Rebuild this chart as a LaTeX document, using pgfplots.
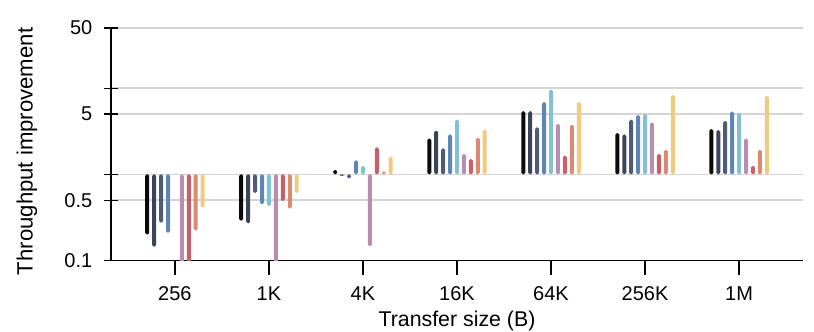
\documentclass[border=0pt]{standalone}
\usepackage{fontspec}
\setmainfont{Liberation Sans}
\usepackage{pgfplots}
\pgfplotsset{compat=1.18}
\usetikzlibrary{calc}
\definecolor{c1}{HTML}{0A0A0A}
\definecolor{c2}{HTML}{3B4558}
\definecolor{c3}{HTML}{505B77}
\definecolor{c4}{HTML}{5E86B5}
\definecolor{c5}{HTML}{80C2D3}
\definecolor{c6}{HTML}{B98CB0}
\definecolor{c7}{HTML}{C95F69}
\definecolor{c8}{HTML}{DA8A6E}
\definecolor{c9}{HTML}{F0CA80}
\definecolor{gridc}{HTML}{D4D4D4}

\begin{document}
\begin{tikzpicture}
\begin{axis}[
  name=ax,
  scale only axis, width=519pt, height=174.3pt,
  ymode=log, ymin=0.1, ymax=50, log origin y=0,
  xmin=-0.68, xmax=6.68,
  xtick={0,...,6}, xticklabels={256,1K,4K,16K,64K,256K,1M},
  ytick={0.1,0.5,1,5,10,50}, yticklabels={0.1,0.5,,5,,50},
  minor ytick={}, 
  axis x line*=bottom, axis y line*=left,
  axis line style={line width=1.1pt},
  tick align=center, major tick length=11pt,
  tick style={line width=1pt, black},
  ymajorgrids, grid style={line width=1.1pt, gridc},
  /pgf/number format/assume math mode=true,
  tick label style={font=\fontsize{15}{18}\selectfont},
  xticklabel style={yshift=-5pt},
  yticklabel style={xshift=-5pt},
  xlabel={Transfer size (B)},
  ylabel={Throughput improvement},
  every axis x label/.style={at={(rel axis cs:0.5,-0.2827)}, anchor=base, font=\fontsize{16}{19}\selectfont},
  every axis y label/.style={at={(rel axis cs:-0.1214,0.469)}, anchor=center, rotate=90, font=\fontsize{16.6}{19}\selectfont},
  ybar=2.2pt, bar width=3pt,
  every axis plot/.append style={draw=none, rounded corners=1.2pt},
]
% 256, 1K, 4K, 16K, 64K, 256K, 1M
\addplot[fill=c1] coordinates {(0,0.20) (1,0.29) (2,1.12) (3,2.6) (4,5.4) (5,3.0) (6,3.35)};
\addplot[fill=c2] coordinates {(0,0.145) (1,0.27) (2,0.96) (3,3.2) (4,5.4) (5,2.9) (6,3.25)};
\addplot[fill=c3] coordinates {(0,0.275) (1,0.61) (2,0.9) (3,2.0) (4,3.5) (5,4.3) (6,4.15)};
\addplot[fill=c4] coordinates {(0,0.21) (1,0.45) (2,1.45) (3,2.9) (4,6.9) (5,4.85) (6,5.35)};
\addplot[fill=c5] coordinates {(0,1) (1,0.43) (2,1.25) (3,4.3) (4,9.6) (5,5.0) (6,5.15)};
\addplot[fill=c6] coordinates {(0,0.07) (1,0.07) (2,0.146) (3,1.72) (4,3.85) (5,4.0) (6,2.6)};
\addplot[fill=c7] coordinates {(0,0.07) (1,0.49) (2,2.05) (3,1.5) (4,1.65) (5,1.72) (6,1.25)};
\addplot[fill=c8] coordinates {(0,0.223) (1,0.40) (2,1.08) (3,2.65) (4,3.75) (5,1.92) (6,1.92)};
\addplot[fill=c9] coordinates {(0,0.414) (1,0.61) (2,1.6) (3,3.3) (4,6.9) (5,8.3) (6,8.1)};
\end{axis}
\pgfresetboundingbox
\path ($(ax.south west)+(-83.25pt,-53.25pt)$) rectangle ($(ax.north east)+(8.25pt,21pt)$);
\end{tikzpicture}
\end{document}
